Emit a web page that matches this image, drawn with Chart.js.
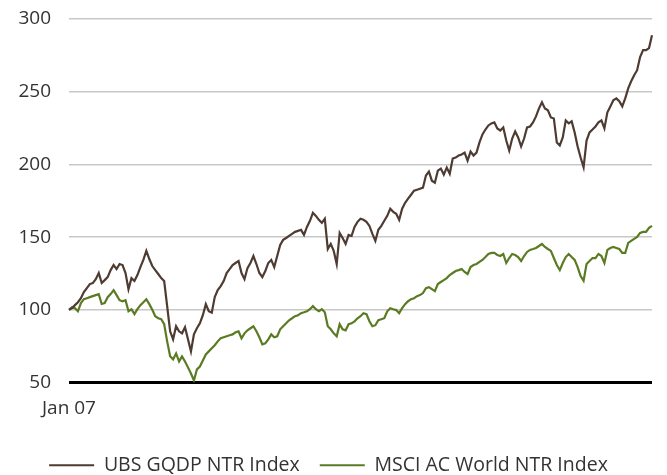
<!DOCTYPE html>
<html>
<head>
<meta charset="utf-8">
<script src="https://cdn.jsdelivr.net/npm/chart.js@4.4.1/dist/chart.umd.min.js"></script>
<style>
  body { margin: 0; background: #fff; }
  canvas { display: block; }
</style>
</head>
<body>
<canvas id="chart" width="667" height="475"></canvas>
<script>
// Index levels, rebased to 100 at Jan 07
const ubsValues = [
  100, 101.1, 103.2, 105.2, 108.0, 112.2, 114.9, 117.7, 118.4, 121.1,
  125.3, 118.4, 120.4, 122.5, 127.3, 130.8, 128.0, 131.5, 130.8, 125.3,
  114.2, 121.8, 119.8, 123.9, 129.4, 134.3, 140.5, 134.9, 130.1, 127.3,
  124.6, 121.8, 119.8, 102.5, 85.2, 79.7, 88.7, 85.2, 83.8, 88.0,
  79.7, 71.4, 83.1, 87.3, 90.7, 96.3, 103.9, 99.0, 98.0, 108.7,
  113.5, 116.3, 119.8, 125.3, 128.0, 130.8, 132.2, 133.6, 125.3, 121.1,
  128.7, 132.2, 137.0, 131.5, 125.3, 122.5, 126.7, 132.2, 134.3, 129.4,
  137.0, 144.6, 148.1, 149.4, 150.8, 152.2, 153.6, 154.3, 155.0, 151.5,
  157.0, 161.2, 166.7, 164.6, 161.9, 159.8, 162.6, 141.8, 145.3, 140.5,
  131.5, 152.9, 149.4, 145.3, 151.5, 150.8, 157.0, 160.5, 162.6, 161.9,
  160.5, 157.7, 152.2, 147.4, 155.0, 157.7, 161.2, 164.6, 169.5, 167.4,
  166.0, 161.9, 169.5, 173.6, 176.4, 179.1, 181.9, 182.6, 183.3, 184.0,
  192.3, 195.0, 188.8, 187.4, 195.7, 197.1, 193.0, 197.8, 193.6, 204.0,
  204.7, 206.1, 206.8, 208.1, 202.6, 208.8, 206.1, 208.1, 215.1, 220.6,
  224.0, 226.8, 228.2, 228.9, 224.7, 223.3, 225.4, 216.4, 209.5, 217.8,
  222.7, 218.5, 212.3, 217.8, 225.4, 226.1, 228.9, 233.0, 238.5, 242.7,
  238.5, 237.2, 232.3, 231.6, 215.1, 213.0, 218.5, 230.2, 228.2, 229.6,
  222.0, 212.3, 204.7, 198.0, 216.4, 222.0, 224.0, 226.1, 228.9, 230.2,
  224.7, 235.8, 239.9, 244.1, 245.4, 243.4, 239.9, 245.4, 252.3, 257.2,
  261.3, 264.8, 273.8, 278.6, 278.6, 280.0, 288.9
];

const msciValues = [
  100, 101.8, 101.1, 99.0, 104.6, 107.3, 108.0, 108.7, 109.4, 110.1,
  110.8, 104.0, 104.6, 108.7, 110.8, 113.5, 110.1, 106.6, 105.9, 106.6,
  99.0, 100.4, 97.0, 100.4, 103.2, 105.2, 107.3, 103.9, 100.0, 95.6,
  94.2, 93.5, 90.1, 78.3, 68.0, 65.9, 70.0, 64.5, 68.0, 64.5,
  60.4, 56.2, 51.4, 59.0, 61.0, 65.2, 69.3, 71.4, 73.5, 75.6,
  78.3, 80.4, 81.1, 81.8, 82.5, 83.1, 84.5, 85.2, 80.4, 83.8,
  85.9, 87.3, 88.7, 85.2, 81.1, 76.2, 76.9, 79.7, 83.1, 81.1,
  81.8, 86.6, 88.7, 90.7, 92.8, 94.2, 95.6, 96.3, 97.7, 98.3,
  99.0, 100.4, 102.5, 100.4, 99.0, 100.4, 98.3, 88.7, 86.6, 83.8,
  81.8, 90.1, 86.6, 85.9, 90.1, 90.7, 92.1, 94.2, 95.6, 97.7,
  97.0, 92.1, 88.7, 89.4, 92.8, 93.5, 94.2, 99.0, 101.1, 100.4,
  99.8, 97.7, 101.1, 103.9, 105.9, 107.3, 108.0, 109.4, 110.1, 111.5,
  114.9, 115.6, 114.2, 112.8, 117.7, 119.1, 120.4, 121.8, 123.9, 125.3,
  126.7, 127.3, 128.0, 126.0, 124.6, 129.4, 130.8, 131.5, 132.9, 134.3,
  136.3, 138.4, 139.1, 139.1, 137.7, 137.0, 138.4, 132.2, 135.6, 138.4,
  137.7, 136.3, 133.6, 137.0, 139.8, 141.2, 141.8, 142.5, 143.9, 145.3,
  143.2, 141.8, 140.5, 135.6, 130.8, 127.3, 132.2, 136.3, 138.4, 136.3,
  134.3, 129.4, 123.2, 120.0, 131.5, 133.6, 135.6, 135.6, 138.4, 137.0,
  132.2, 141.2, 142.5, 143.2, 142.5, 141.8, 139.1, 139.1, 146.0, 147.4,
  148.8, 150.1, 152.9, 153.6, 153.6, 156.4, 157.7
];

const seriesNames = ["UBS GQDP NTR Index", "MSCI AC World NTR Index"];
const firstLabel = "Jan 07";
const yTicks = [50, 100, 150, 200, 250, 300];

// only the first period gets a visible label
const categories = ubsValues.map((v, i) => i === 0 ? firstLabel : "");

Chart.defaults.font.family = '"Open Sans", sans-serif';
Chart.defaults.font.size = 19;
Chart.defaults.color = "#333";

new Chart(document.getElementById("chart"), {
  type: "line",
  data: {
    labels: categories,
    datasets: [
      {
        label: seriesNames[0],
        data: ubsValues,
        borderColor: "#4e3b31",
        backgroundColor: "#4e3b31",
        borderWidth: 2.2,
        pointRadius: 0,
        tension: 0
      },
      {
        label: seriesNames[1],
        data: msciValues,
        borderColor: "#5b7b23",
        backgroundColor: "#5b7b23",
        borderWidth: 2.2,
        pointRadius: 0,
        tension: 0
      }
    ]
  },
  options: {
    responsive: false,
    animation: false,
    layout: { padding: { top: 19, right: 10, left: 0, bottom: -10 } },
    plugins: {
      legend: {
        position: "bottom",
        labels: {
          usePointStyle: true,
          pointStyle: "line",
          pointStyleWidth: 45,
          padding: 20,
          color: "#333",
          font: { size: 19.5 }
        }
      },
      tooltip: { enabled: false }
    },
    scales: {
      x: {
        grid: { display: false, drawTicks: false },
        border: { display: false },
        ticks: {
          autoSkip: false,
          maxRotation: 0,
          padding: 15,
          callback: (v, i) => categories[i]
        },
        afterFit: s => { s.height = 53; }
      },
      y: {
        min: yTicks[0],
        max: yTicks[yTicks.length - 1],
        afterBuildTicks: s => { s.ticks = yTicks.map(v => ({ value: v })); },
        ticks: { padding: 18 },
        grid: {
          drawTicks: false,
          color: ctx => ctx.tick.value === 50 ? "#000" : "#c8c8c8",
          lineWidth: ctx => ctx.tick.value === 50 ? 3 : 1.5
        },
        border: { display: false },
        afterFit: s => {
          s.width = 69;
          s.paddingTop = 11;
          s.paddingBottom = 11;
        }
      }
    }
  }
});
</script>
</body>
</html>
